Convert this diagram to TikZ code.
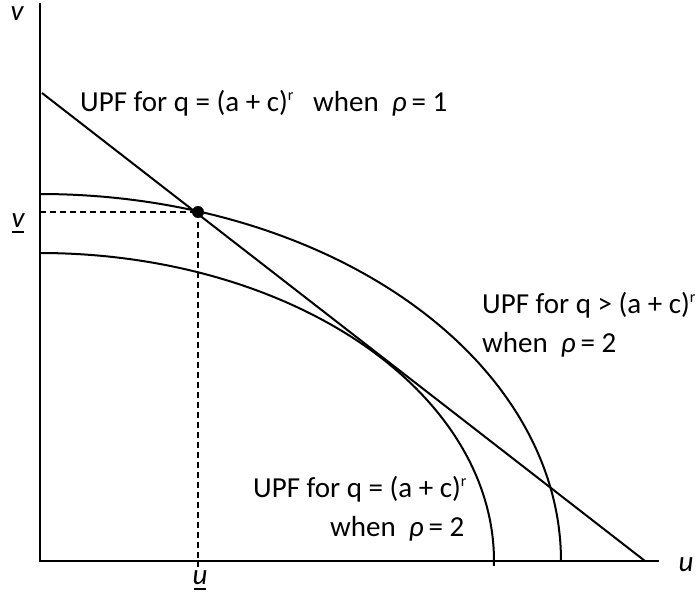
\documentclass[tikz,border=0pt]{standalone}
\usepackage{fontspec}
\setmainfont{Carlito}
\newcommand{\supr}{\raisebox{0.75ex}{\fontsize{16}{16}\selectfont r}}
\begin{document}
\begin{tikzpicture}[x=1pt,y=-1pt,
  curve/.style={line width=2pt},
  guide/.style={line width=1.8pt, dash pattern=on 6pt off 4pt},
  lbl/.style={font=\fontsize{29}{34}\selectfont, inner sep=0pt, anchor=west},
  axlbl/.style={font=\fontsize{29}{34}\selectfont\itshape, inner sep=0pt}]
\useasboundingbox (0,0) rectangle (699,599);
\coordinate (O) at (40,561);
\coordinate (Ytop) at (40,3);
\coordinate (Xend) at (659,561);
\coordinate (L1) at (42,93);
\coordinate (L2) at (645,561);
% axes
\draw[curve] (Ytop) -- (O) -- (Xend);
% UPF straight line
\draw[curve] (L1) -- (L2);
% outer curve
\draw[curve] plot[domain=0:90, samples=90, smooth] ({40+521*cos(\x)}, {561-367*sin(\x)});
% inner curve
\draw[curve] plot[domain=-0.9:90, samples=90, smooth] ({40+454*cos(\x)}, {561-308*sin(\x)});
% point
\node[circle, fill=black, inner sep=0pt, minimum size=12pt] (P) at (198,212) {};
\coordinate (Pv) at (40,212);
\coordinate (Pu) at (198,567);
\draw[guide] (Pv) -- (P.center);
\draw[guide] (P.center) -- (Pu);
% axis labels
\node[axlbl] (vlab) at (17,14) {v};
\node[axlbl] (ulab) at (686,565) {u};
\node[axlbl] (vbar) at (18,221) {v};
\draw[line width=1.8pt] ([xshift=-6pt,yshift=-4pt]vbar.south) -- ([xshift=6pt,yshift=-4pt]vbar.south);
\node[axlbl] (ubar) at (200,578) {u};
\draw[line width=1.8pt] ([xshift=-6pt,yshift=-4pt]ubar.south) -- ([xshift=6pt,yshift=-4pt]ubar.south);
% curve labels
\node[lbl] (t1) at (80,103) {UPF for q = (a + c)\supr\ \ \ when\ \ \textit{ρ}\,= 1};
\node[lbl] (t2) at (482,305) {UPF for q > (a + c)\supr};
\node[lbl] (t3) at (482,345) {when\ \ \textit{ρ}\,= 2};
\node[lbl] (t4) at (253,489) {UPF for q = (a + c)\supr};
\node[lbl] (t5) at (330,529) {when\ \ \textit{ρ}\,= 2};
\end{tikzpicture}
\end{document}
